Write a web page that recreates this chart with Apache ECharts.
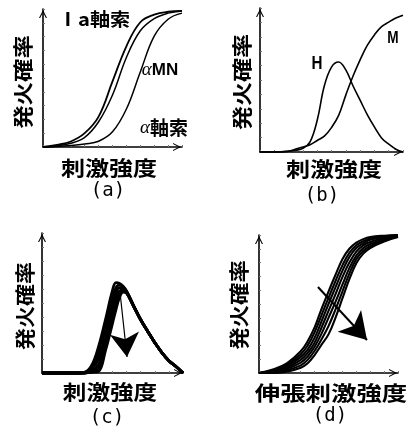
<!DOCTYPE html>
<html><head><meta charset="utf-8">
<script src="https://cdn.jsdelivr.net/npm/echarts@6/dist/echarts.min.js"></script>
<style>html,body{margin:0;padding:0;background:#fff}#c{width:412px;height:434px}</style>
</head><body><div id="c"></div>
<script>
// ---- panel (a): firing probability vs stimulus strength ----
const xsA = [0, 10, 20, 30, 40, 50, 60, 70, 80, 90, 100];
const iaAxon = [0, 1.5, 4, 10, 22, 47.5, 73, 90.4, 95.9, 98, 98.6];
const alphaMN = [0, 0.8, 2.7, 7, 18.3, 37.7, 64.9, 84.2, 93, 97, 98.6];
const alphaAxon = [0, 0.3, 1, 2.2, 4.2, 11, 27.5, 54.4, 80.3, 92.6, 97];

// ---- panel (b): H and M ----
const xsB = [0, 10, 20, 25, 30, 35, 40, 45, 50, 55, 60, 65, 70, 75, 80, 85, 90, 95, 100];
const hReflex = [0, 0, 0.5, 1.2, 2.5, 7, 22, 46, 59, 62.5, 57, 46, 36, 26, 17.4, 9.8, 5.5, 2, 0];
const mWave = [0, 0, 0.5, 2, 3.5, 5, 8, 11, 17, 25.4, 39.5, 52.6, 64, 74, 81.3, 87, 90.2, 93, 95];

// ---- panel (c): family of bell curves ----
const xsC = [0, 25, 30, 35, 40, 45, 50, 52.5, 55, 57.5, 60, 65, 70, 75, 80, 85, 90, 95, 100];
const c1 = [0, 0, 0.5, 5, 18.5, 38, 59, 64.5, 64, 62, 58.5, 48, 38, 29.7, 21.7, 14.6, 8.8, 4.6, 0];
const c2 = [0, 0, 0.3, 3.5, 14, 32, 53, 61, 63, 61.5, 58.3, 48, 38, 29.7, 21.7, 14.6, 8.8, 4.6, 0];
const c3 = [0, 0, 0.2, 2.5, 10, 27, 48, 57, 61, 60.8, 58, 48, 38, 29.7, 21.7, 14.6, 8.8, 4.6, 0];
const c4 = [0, 0, 0, 1.5, 6, 23, 44, 53, 58.5, 59.5, 57.5, 47.8, 38, 29.7, 21.7, 14.6, 8.8, 4.6, 0];
const c5 = [0, 0, 0, 1, 3, 19, 39, 49, 56, 58.5, 57.2, 47.6, 38, 29.7, 21.7, 14.6, 8.8, 4.6, 0];
const c6 = [0, 0, 0, 0.5, 1, 16, 35.5, 45.5, 54, 57.8, 57, 47.5, 38, 29.7, 21.7, 14.6, 8.8, 4.6, 0];
const arrowC = [[55.3, 57.9], [60.3, 11.4]];

// ---- panel (d): family of sigmoids vs stretch stimulus ----
const xsD = [0, 10, 20, 30, 35, 40, 45, 50, 55, 60, 65, 70, 75, 80, 90, 100];
const d1 = [0, 2.5, 7, 15.7, 23, 33, 46.5, 59, 71, 82.5, 90, 94.5, 97, 98.5, 99.5, 100];
const d2 = [0, 2, 6, 13.5, 20, 29.5, 42, 54.5, 66.5, 78, 87, 92.5, 95.5, 97.5, 99, 99.8];
const d3 = [0, 1.5, 5, 11.5, 17, 25.5, 37.5, 50, 62, 74, 84, 90.5, 94, 96.5, 98.5, 99.6];
const d4 = [0, 1, 4, 9.5, 14.5, 22, 33, 45, 57, 69.5, 80, 88, 92.5, 95, 97.8, 99.3];
const d5 = [0, 0.5, 3, 7.5, 12, 19, 28.5, 40, 51.5, 64, 76, 85, 90.5, 93.5, 97, 99];
const d6 = [0, 0.2, 2, 5.5, 9.5, 16, 24.5, 34, 46, 59, 72, 82.5, 88.5, 92, 96.2, 98.8];
const d7 = [0, 0, 1, 3.8, 7, 13, 20.5, 28, 40, 54, 68, 79.5, 86.5, 90.6, 95.3, 98.5];
const arrowD = [[42.4, 62.3], [77.7, 23.9]];

// ---- texts ----
const yName = '発火確率';
const xName = '刺激強度';
const xNameD = '伸張刺激強度';
const panelTags = ['(a)', '(b)', '(c)', '(d)'];

const pair = (xs, ys) => xs.map((x, i) => [x, ys[i]]);
const chevron = 'path://M0,10 L5,0 L10,10 L8.6,10 L5,3 L1.4,10 Z';
const grids = [
  { left: 43, top: 9, width: 139, height: 138 },
  { left: 260, top: 8, width: 143, height: 144 },
  { left: 42, top: 233, width: 141, height: 140 },
  { left: 259, top: 235, width: 139, height: 138 }
];
function ax(i) {
  return {
    type: 'value', gridIndex: i, min: 0, max: 100, interval: 10,
    axisLine: { show: true, onZero: false, symbol: ['none', chevron], symbolSize: [8, 10], symbolOffset: [0, -5],
      lineStyle: { color: '#000', width: 1.6 } },
    axisTick: { show: true, inside: true, length: 2, lineStyle: { color: '#777', width: 1 } },
    axisLabel: { show: false }, splitLine: { show: false }
  };
}
function curve(i, xs, ys, w) {
  return { type: 'line', xAxisIndex: i, yAxisIndex: i, data: pair(xs, ys), smooth: 0.4,
    showSymbol: false, silent: true, clip: false, lineStyle: { color: '#000', width: w || 1.6 } };
}
function arrow(i, pts, w, size) {
  return { type: 'line', xAxisIndex: i, yAxisIndex: i, data: [], silent: true,
    markLine: { silent: true, symbol: ['none', 'arrow'], symbolSize: size, label: { show: false },
      lineStyle: { color: '#000', width: w, type: 'solid' },
      data: [[{ coord: pts[0] }, { coord: pts[1] }]] } };
}
const JP = "'Noto Sans CJK JP'";
function tx(x, y, text, size, opts) {
  opts = opts || {};
  return { type: 'text', x: x, y: y, rotation: opts.rot || 0, scaleX: opts.sx || 1, scaleY: opts.sy || 1, silent: true,
    style: { text: text, fontSize: size, fontFamily: opts.ff || JP, fontWeight: opts.fw || 'bold',
      fill: '#000', align: 'center', verticalAlign: 'middle', rich: opts.rich } };
}
const rich = {
  g: { fontFamily: 'Liberation Serif', fontStyle: 'italic', fontSize: 19, fill: '#000' },
  m: { fontFamily: "'Liberation Sans Narrow','Liberation Sans'", fontWeight: 'bold', fontSize: 17, fill: '#000' },
  k: { fontFamily: JP, fontWeight: 'bold', fontSize: 19, fill: '#000' }
};
const option = {
  backgroundColor: '#fff',
  animation: false,
  grid: grids,
  xAxis: [ax(0), ax(1), ax(2), ax(3)],
  yAxis: [ax(0), ax(1), ax(2), ax(3)],
  series: [
    curve(0, xsA, iaAxon, 1.8), curve(0, xsA, alphaMN, 1.5), curve(0, xsA, alphaAxon, 1.5),
    curve(1, xsB, hReflex, 1.6), curve(1, xsB, mWave, 1.6),
    curve(2, xsC, c1, 2.8), curve(2, xsC, c2, 2.8), curve(2, xsC, c3, 2.8), curve(2, xsC, c4, 2.8), curve(2, xsC, c5, 2.8), curve(2, xsC, c6, 2.8),
    arrow(2, arrowC, 1.2, [22, 24]),
    curve(3, xsD, d1, 2.1), curve(3, xsD, d2, 2.1), curve(3, xsD, d3, 2.1), curve(3, xsD, d4, 2.1), curve(3, xsD, d5, 2.1), curve(3, xsD, d6, 2.1), curve(3, xsD, d7, 2.1),
    arrow(3, arrowD, 2, [24, 26])
  ],
  graphic: [
    tx(23, 82, yName, 20, { rot: Math.PI / 2, sx: 1.17 }),
    tx(109, 168, xName, 20, { sx: 1.2 }),
    tx(242, 82, yName, 20, { rot: Math.PI / 2, sx: 1.2 }),
    tx(334, 169, xName, 20, { sx: 1.2 }),
    tx(25, 306, yName, 20, { rot: Math.PI / 2, sx: 1.1 }),
    tx(110, 392, xName, 20, { sx: 1.18 }),
    tx(239, 305, yName, 20, { rot: Math.PI / 2, sx: 1.12 }),
    tx(331, 393, xNameD, 20, { sx: 1.27 }),
    tx(108, 191, panelTags[0], 19, { ff: "'DejaVu Sans Mono'", fw: 'normal' }),
    tx(322, 196, panelTags[1], 19, { ff: "'DejaVu Sans Mono'", fw: 'normal' }),
    tx(107, 418, panelTags[2], 19, { ff: "'DejaVu Sans Mono'", fw: 'normal' }),
    tx(330, 416, panelTags[3], 19, { ff: "'DejaVu Sans Mono'", fw: 'normal' }),
    tx(94, 19, 'Ⅰa軸索', 18, { sx: 1.12 }),
    tx(160, 70, '{g|α}{m|MN}', 17, { rich: rich }),
    tx(164, 128, '{g|α}{k|軸索}', 17, { rich: rich }),
    tx(317, 64, 'H', 19, { ff: "'Liberation Sans'", sx: 0.8 }),
    tx(393, 38, 'M', 17, { ff: "'Liberation Sans'", sx: 0.8 })
  ]
};
const chart = echarts.init(document.getElementById('c'));
chart.setOption(option);
</script>
</body></html>
